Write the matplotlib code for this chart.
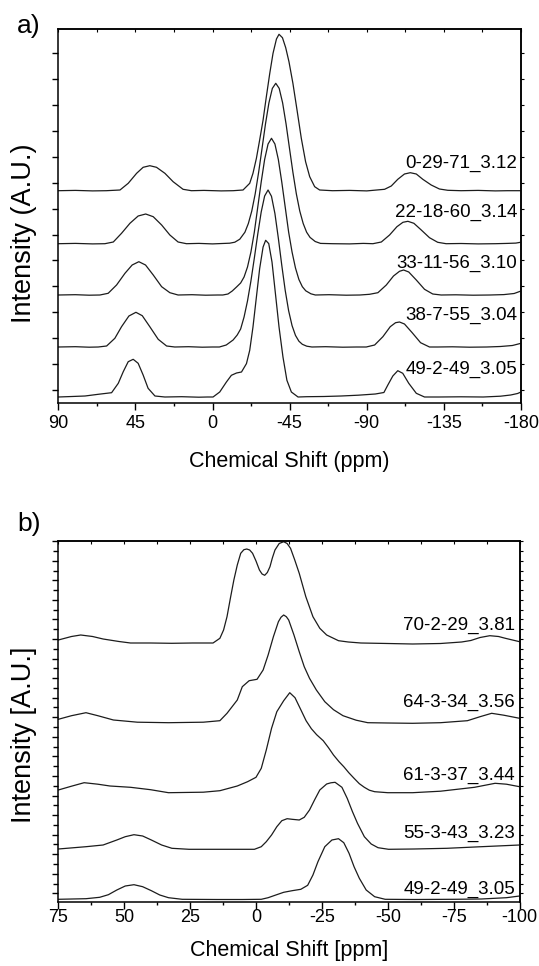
import numpy as np
import matplotlib
matplotlib.use('Agg')
import matplotlib.pyplot as plt
from matplotlib.ticker import MultipleLocator, FixedLocator, NullFormatter

plt.rcParams['font.family'] = ['Liberation Sans', 'DejaVu Sans']
plt.rcParams['axes.unicode_minus'] = False

# ---------------- panel a) : spectra ----------------
labels_a = ['0-29-71_3.12', '22-18-60_3.14', '33-11-56_3.10', '38-7-55_3.04', '49-2-49_3.05']
offsets_a = [212.3, 159.3, 108.0, 56.0, 6.0]

shift_a1 = [90, 80, 70, 62, 54.0, 49.2, 44.3, 40.5, 36.6, 32.7, 27.8, 23.0, 17.2, 12.3, 5, -5, -12,
            -17.8, -21.7, -23.6, -25.6, -27.5, -29.5, -31.4, -33.4, -35.3, -37.3, -38.8, -40.8, -42.7,
            -44.6, -46.9, -49.3, -51.8, -54.3, -56.7, -59.6, -62.5, -70, -80, -90, -100.4, -104.3,
            -108.1, -112.0, -115.4, -118.9, -122.7, -127.6, -132.4, -137.3, -145, -155, -165, -172, -180]
inten_a1 = [0, 0.3, -0.2, 0, 0.7, 7.4, 17.4, 23.4, 25, 23.4, 17.4, 9.0, 1.4, 0, 0.3, -0.2, 0,
            0.7, 7.4, 17.4, 32.4, 50.7, 70.7, 94, 117.4, 137.4, 151.7, 156.4, 153, 143,
            129, 107.4, 80.7, 52.4, 29, 14, 4, 0.7, 0, 0.3, -0.2, 1.4, 4.7,
            11.4, 16.7, 18, 16.7, 11.4, 5.7, 1.7, 0.4, 0, 0.3, -0.2, 0, 0]

shift_a2 = [90, 80, 70, 62.8, 57.9, 53.1, 48.2, 43.4, 39.0, 34.6, 29.7, 24.9, 20.1, 15.2, 8, 0, -7,
            -10, -13, -15.9, -18.9, -20.9, -22.9, -24.9, -26.9, -28.9, -30.9, -32.9, -34.9, -36.9,
            -38.9, -40.9, -42.9, -44.9, -46.9, -48.9, -50.9, -52.9, -54.9, -56.9, -59.9, -63, -70,
            -80, -88, -93.6, -98.5, -103.3, -107.6, -111.1, -114.0, -117.5, -121.8, -126.6, -131.4,
            -136.3, -145, -155, -165, -172, -177, -180]
inten_a2 = [0, 0.3, -0.2, 0, 1.7, 10.4, 20.4, 27.7, 29.7, 27, 18.7, 8.7, 1.7, 0, 0.3, -0.2, 0.3,
            0.5, 1.5, 4.5, 11.5, 20.2, 32.7, 49.9, 71.4, 95.4, 119.8, 140.8, 155.3, 160.4,
            155.3, 140.8, 119.8, 95.4, 71.4, 49.9, 32.7, 20.2, 11.5, 6.3, 2.2, 0.3, 0,
            -0.2, 0.3, 0, 1.7, 8.7, 17, 21.4, 22.4, 20.4, 13.7, 6, 1.4,
            0, 0.2, -0.2, 0, 0.3, 0.6, 1.5]

shift_a3 = [90, 80, 72, 65.7, 60.9, 56.0, 51.1, 46.9, 43.0, 39.1, 34.6, 29.7, 24.9, 20.1, 12, 4, -3,
            -6, -9, -11.5, -14, -16.4, -18.4, -20.4, -22.4, -24.4, -26.4, -28.4, -30.4, -32.4,
            -34.4, -36.4, -38.4, -40.4, -42.4, -44.4, -46.4, -48.4, -50.4, -52.4, -54.4, -57.4,
            -60, -68, -78, -86, -91.6, -96.5, -101.4, -105.6, -109.1, -111.5, -114.5, -118.9,
            -123.7, -128.5, -133.4, -142, -152, -162, -170, -176, -180]
inten_a3 = [0, 0.3, -0.2, 0, 1.7, 10, 21.7, 30, 33.3, 30, 20, 8.3, 2.3, 0, 0.3, -0.2, 0,
            0, 1, 4, 8, 12, 18, 28, 43, 63, 88, 113, 135.5, 151,
            156.7, 151, 135.5, 113, 88, 63, 43, 27, 15.5, 8.3, 4.2, 1.2,
            0, 0.3, -0.2, 0, 0.7, 2.3, 10, 19, 23.7, 25, 23, 15,
            5.7, 1, 0, 0.2, -0.2, 0, 0.4, 1.5, 4]

shift_a4 = [90, 80, 72, 66.7, 61.8, 57.0, 53.1, 48.8, 44.7, 41.0, 36.6, 31.7, 26.8, 22.0, 14, 6, 0,
            -4, -8, -12, -14.4, -16.4, -18.4, -20.4, -22.4, -24.4, -26.4, -28.4, -30.4, -32.4,
            -34.4, -36.4, -38.4, -40.4, -42.4, -44.4, -46.4, -48.4, -50.4, -52.4, -55, -58, -66,
            -76, -84, -89.7, -94.6, -99.4, -103.7, -106.8, -109.1, -112.0, -116.5, -121.4, -126.6,
            -131.4, -140, -150, -160, -168, -175, -180]
inten_a4 = [0, 0.3, -0.2, 0, 1, 8.7, 20.3, 31, 34.7, 31.3, 20.3, 7.7, 1, 0, 0.3, -0.2, 0,
            0, 2, 7, 12, 18, 30, 46, 66, 89, 113, 135, 151, 157,
            150.7, 133.5, 108.8, 81.8, 56.7, 36.3, 21.4, 11.6, 5.8, 2.7, 0.8, 0, 0.3,
            -0.2, 0, 0, 2, 10.3, 20.3, 24.3, 25, 23, 14.3, 4.3, 0,
            0, 0.2, -0.2, 0, 0.5, 1.5, 3.7]

shift_a5 = [90, 82, 74.4, 66.7, 58.9, 55.0, 52.1, 49.2, 46.3, 43.4, 40.5, 37.6, 33.6, 27.8, 18, 8, 3,
            -0.3, -4.2, -8.1, -11.0, -14.0, -16.9, -19.8, -21.7, -23.6, -25.6, -27.5, -29.5, -31.0,
            -32.8, -34.7, -36.7, -38.8, -41.1, -43.4, -46.0, -49.9, -55, -65, -75, -85, -95, -100,
            -102.3, -105.2, -108.1, -111.0, -114.5, -118.9, -123.7, -132, -145, -158, -168, -174,
            -178, -180]
inten_a5 = [0, 0.5, 1, 2.7, 4.3, 13.7, 25.3, 35.3, 37.7, 33.7, 22, 8.7, 1, 0, 0.3, -0.2, 0,
            0, 5, 15, 21.7, 24, 25, 33.4, 46.7, 70, 100, 128.4, 150, 156.7,
            153.4, 135, 103.4, 70, 40, 16.7, 5, 0, 0.3, 0.5, 1, 1.8, 3, 4.5,
            12, 21, 26.3, 23.7, 13.7, 3.7, 0, 0, 0.2, 0, 0.8, 2,
            3.5, 5]

# ---------------- panel b) ----------------
labels_b = ['70-2-29_3.81', '64-3-34_3.56', '61-3-37_3.44', '55-3-43_3.23', '49-2-49_3.05']
offsets_b = [259.0, 179.3, 109.3, 52.7, 2.5]

shift_b1 = [75, 70, 66.5, 62, 58, 52, 47.6, 40, 32, 24, 16.3, 13.7, 12.3, 11, 9.7, 8.4, 7.1, 5.8, 4.6,
            3.5, 2.4, 1.3, 0, -1.3, -2.3, -3.3, -4.3, -5.3, -6.2, -7.2, -8.8, -10.5, -11.8, -13.1,
            -14.7, -16.4, -18.9, -21.6, -24.2, -26.8, -29.4, -31.3, -35, -39.8, -50, -59.4, -70,
            -78, -81.5, -85, -88.7, -92, -94.6, -100]
inten_b1 = [3, 6.5, 8, 6.5, 4, 1.5, 0, 0, -0.3, 0, 0, 4.7, 13, 26.3, 45, 63, 78, 89.7, 93.3,
            94, 93, 89.7, 82, 73, 69, 67.7, 70.5, 76.3, 85, 93, 99.5, 101.3, 99.5, 94.7,
            83, 69.7, 46.3, 26.3, 14.7, 8, 4.7, 2.3, 1, 0, -0.5, -1, -0.5,
            1, 2.5, 5.5, 7.3, 6.5, 4.7, 1.3]

shift_b2 = [75, 70, 64.5, 60, 54.1, 45, 33.2, 20, 13.7, 11, 7.1, 5.2, 2.6, -0.4, -2.7, -4.6, -6.6,
            -8.5, -9.5, -10.5, -11.5, -12.4, -14.4, -16.4, -18.3, -20.3, -22.9, -26.1, -29.4, -33,
            -38, -42.4, -50, -59.4, -70, -80.2, -85, -89.4, -94, -100]
inten_b2 = [3.4, 7, 10, 7, 2.7, 0.5, 0, 0.5, 2, 9.4, 22.7, 36, 42, 43.4, 52.7, 67.7, 86,
            101, 105.5, 107.7, 106, 102.7, 87.7, 71, 56, 44.4, 32.7, 21, 13, 7,
            2.5, 0, -0.3, -0.6, 0, 2, 6, 9.4, 7.5, 4.4]

shift_b3 = [75, 70, 65.2, 60, 55.4, 47.6, 40, 33.2, 20, 13.7, 7.1, 3.2, 0, -2, -3.9, -5.9, -7.9,
            -10.5, -12.8, -14.8, -17, -19, -21, -23, -25.5, -27.5, -29.4, -31.5, -33.3, -35.2,
            -37.2, -39.2, -41.1, -43, -45, -50, -59.4, -70, -82.9, -90.7, -95, -100]
inten_b3 = [2.7, 6.5, 10, 8.5, 6.7, 5.4, 3, 0, 0.5, 2, 6.7, 11, 15.4, 24.4, 42.7, 64.4, 81,
            92, 100, 95, 83, 72, 64, 58, 52, 45, 37.7, 31, 26, 20,
            14.4, 9, 5.4, 2.5, 1, 0, 0, 1.5, 5.4, 9.4, 8.5, 6]

shift_b4 = [75, 64.5, 58, 52.8, 49.6, 46.3, 43, 39.7, 35.8, 31.9, 25.4, 12, 0.6, -2, -3.9, -5.9,
            -7.9, -9.8, -11.8, -13.7, -16.4, -18.3, -20.3, -22.2, -24.2, -26.8, -28.4, -30, -32.6,
            -34.6, -36.6, -38.5, -41.1, -43.7, -46.3, -50.3, -60, -72.4, -85.5, -100]
inten_b4 = [0.3, 2.6, 4.3, 9.3, 12.6, 14.6, 13.3, 9.3, 4.3, 1, 0, 0, 0, 2.6, 7.6, 14.3,
            22.6, 28.6, 30.6, 30, 29.3, 32, 39.3, 49.3, 59.3, 65.3, 66.5, 67, 62,
            51, 37.6, 26, 12.6, 5.3, 1.6, 0, 0.3, 1, 2.6, 4.3]

shift_b5 = [75, 64.5, 59.3, 56, 52.8, 49.6, 46.3, 43, 39.7, 36.5, 33.2, 28, 15, 5, -2, -4.6, -7.2,
            -10.5, -13.7, -17, -19.6, -21.6, -23.5, -26.1, -28.8, -31.3, -33.3, -35.3, -37.2,
            -39.2, -41.8, -45, -49, -60, -75, -85.5, -95, -100]
inten_b5 = [0.2, 0.8, 2.2, 4.8, 9.5, 13.5, 14.8, 12.8, 8.8, 4.5, 1.8, 0.2, 0, 0, 0.2, 1.8, 4.2,
            7.2, 8.8, 10.2, 14.2, 24.5, 37.8, 52.8, 59.5, 60.8, 56.8, 46.2, 32.8,
            21.2, 9.5, 2.8, 0.2, 0, 0.2, 0.5, 1.8, 3.5]

shifts_a = [shift_a1, shift_a2, shift_a3, shift_a4, shift_a5]
intens_a = [inten_a1, inten_a2, inten_a3, inten_a4, inten_a5]
shifts_b = [shift_b1, shift_b2, shift_b3, shift_b4, shift_b5]
intens_b = [inten_b1, inten_b2, inten_b3, inten_b4, inten_b5]

# ---------------- figure ----------------
W, H = 539, 966
fig = plt.figure(figsize=(W / 100, H / 100), dpi=100)


def rect(l, t, r, b):
    return [l / W, 1 - b / H, (r - l) / W, (b - t) / H]


ax_a = fig.add_axes(rect(58.3, 29, 521, 403))
ax_b = fig.add_axes(rect(58.3, 541, 519.6, 902))

lc = '#1c1c1c'
for x, y, off in zip(shifts_a, intens_a, offsets_a):
    ax_a.plot(x, np.array(y) + off, color=lc, lw=0.9, solid_joinstyle='round')
for x, y, off in zip(shifts_b, intens_b, offsets_b):
    ax_b.plot(x, np.array(y) + off, color=lc, lw=0.9, solid_joinstyle='round')

ax_a.set_xlim(90, -180)
ax_a.set_ylim(0, 374)
ax_b.set_xlim(75, -100)
ax_b.set_ylim(0, 361)


def frame(ax, major_x, minor_x, ymaj, ymin, pad):
    ax.xaxis.set_major_locator(MultipleLocator(major_x))
    ax.xaxis.set_minor_locator(MultipleLocator(minor_x))
    ax.yaxis.set_major_locator(FixedLocator(ymaj))
    ax.yaxis.set_minor_locator(FixedLocator(ymin))
    ax.tick_params(axis='x', which='major', direction='out', length=4.8, width=1.0,
                   labelsize=13, pad=pad)
    ax.tick_params(axis='x', which='minor', direction='out', length=2.5, width=1.0)
    ax.tick_params(axis='y', which='major', direction='out', length=4.5, width=1.0,
                   labelleft=False)
    ax.tick_params(axis='y', which='minor', direction='out', length=3.5, width=1.0)
    for s in ax.spines.values():
        s.set_linewidth(1.1)
    top = ax.secondary_xaxis('top')
    top.xaxis.set_major_locator(MultipleLocator(minor_x))
    top.xaxis.set_major_formatter(NullFormatter())
    top.tick_params(direction='in', length=2, width=0.8)
    top.spines['top'].set_linewidth(1.1)
    right = ax.secondary_yaxis('right')
    right.yaxis.set_major_locator(FixedLocator(list(ymaj) + list(ymin)))
    right.yaxis.set_major_formatter(NullFormatter())
    right.tick_params(direction='out', length=2, width=0.8)
    right.spines['right'].set_linewidth(1.1)


frame(ax_a, 45, 22.5, np.arange(13, 374, 25.9), [], 3.9)
frame(ax_b, 25, 12.5, np.arange(8.7, 361, 19.56), np.arange(18.48, 361, 19.56), 0.5)

ax_a.set_xlabel('Chemical Shift (ppm)', fontsize=15.5, va='baseline')
ax_a.xaxis.set_label_coords(0.5, -(467 - 403) / 374)
ax_b.set_xlabel('Chemical Shift [ppm]', fontsize=15.5, va='baseline')
ax_b.xaxis.set_label_coords(0.5, -(956 - 902) / 361)

ax_a.set_ylabel('Intensity (A.U.)', fontsize=19.5, va='center')
ax_a.yaxis.set_label_coords((24 - 58.3) / 462.7, (403 - 233) / 374)
ax_b.set_ylabel('Intensity [A.U.]', fontsize=19.5, va='center')
ax_b.yaxis.set_label_coords((24 - 58.3) / 461.3, (902 - 735) / 361)

label_y_a = [235, 186.3, 135, 83, 29]
for lab, yy in zip(labels_a, label_y_a):
    ax_a.text(0.9913, yy, lab, transform=ax_a.get_yaxis_transform(), ha='right',
              va='baseline', fontsize=13.5)
label_y_b = [272, 195, 122, 64, 8]
for lab, yy in zip(labels_b, label_y_b):
    ax_b.text(0.990, yy, lab, transform=ax_b.get_yaxis_transform(), ha='right',
              va='baseline', fontsize=13.5)

fig.text(17 / W, 1 - 26 / H, 'a)', fontsize=19, ha='left', va='center')
fig.text(17 / W, 1 - 524 / H, 'b)', fontsize=19, ha='left', va='center')

fig.savefig('out.png', dpi=100)
